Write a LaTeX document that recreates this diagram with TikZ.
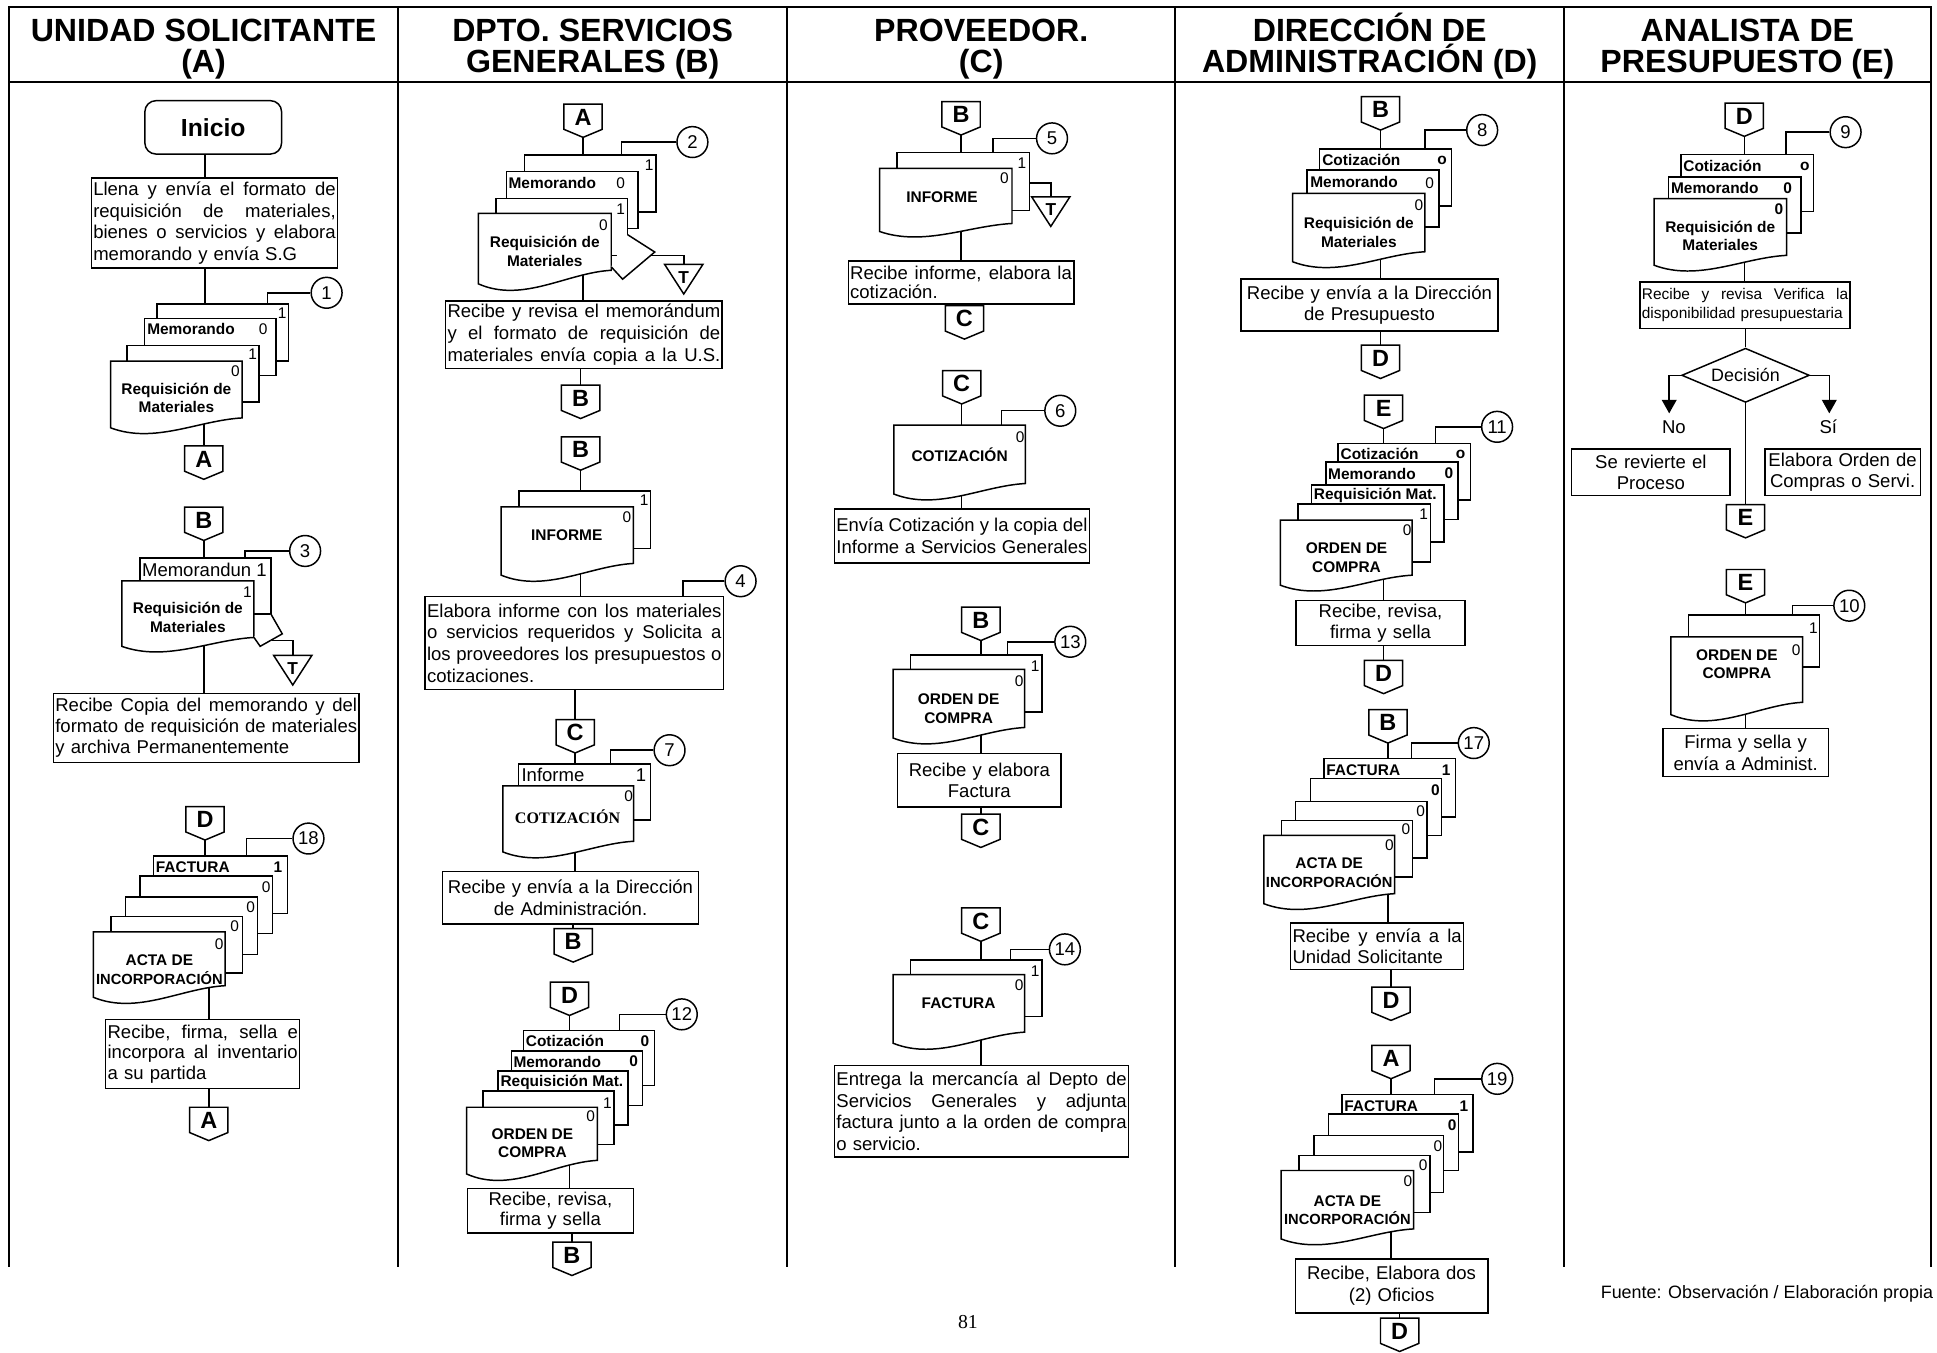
\documentclass[tikz,border=0pt]{standalone}
\usepackage{fontspec}
\usepackage{graphicx}
\setmainfont{Liberation Sans}
\newfontfamily\timesf{Liberation Serif}
\usetikzlibrary{calc,shapes.geometric,arrows.meta}
\pgfdeclarelayer{bg}
\pgfsetlayers{bg,main}
\newsavebox\jlbox
\newcommand\fsz[2]{\fontsize{#1}{#2}\selectfont}
\newcommand\jl[1]{\sbox\jlbox{\spaceskip=0pt\relax#1}\ifdim\wd\jlbox>\hsize\resizebox{\hsize}{\height}{\usebox\jlbox}\else\makebox[\hsize][s]{\spaceskip=0.278em plus 1fil\relax#1}\fi}
\tikzset{
 ln/.style={line width=1.2pt},
 frame/.style={line width=1.7pt, line cap=rect},
 proc/.style={draw, line width=1.2pt, fill=white, inner xsep=1.5pt, inner ysep=0pt, anchor=north west, align=left, font=\fsz{15}{17.5}},
 sheetn/.style={draw, line width=1.2pt, fill=white, inner sep=0pt, outer sep=0pt, anchor=north west},
 docn/.style={inner sep=0pt, outer sep=0pt, anchor=north west},
 dtext/.style={font=\bfseries\fsz{12.5}{15}, align=center, inner sep=0pt},
 slab/.style={font=\bfseries\fsz{12.5}{14}, inner sep=0pt, anchor=west},
 snum/.style={font=\fsz{12.5}{14}, inner sep=0pt},
 snumb/.style={font=\bfseries\fsz{12.5}{14}, inner sep=0pt},
 circn/.style={circle, draw, line width=1.2pt, fill=white, minimum size=25pt, inner sep=0pt, font=\fsz{15}{15}},
 cletter/.style={font=\bfseries\fsz{19}{19}, inner sep=0pt},
 head/.style={font=\bfseries\fsz{26}{26}, anchor=base, inner sep=0pt},
 plain/.style={font=\fsz{15}{15}, inner sep=0pt},
}
\newcommand\sht[5]{\node[sheetn, minimum width=#4pt, minimum height=#5pt] (#1) at (#2,#3) {};}
\newcommand\docf[6]{%
 \node[docn, minimum width=#4pt, minimum height=#5pt] (#1) at (#2,#3) {};
 \draw[ln, fill=white] (#1.north west) -- (#1.north east) -- (#1.south east)
   .. controls ($(#1.south east)!0.333!(#1.south west)+(0,2)$) and ($(#1.south east)!0.667!(#1.south west)+(0,{1.8*#6+7})$)
   .. ($(#1.south west)+(0,#6)$) -- cycle;}
\newcommand\conn[4]{%
 \draw[ln, fill=white] ({#2-15.5},#3) -- ({#2+15.5},#3) -- ({#2+15.5},{#3+20.5}) -- (#2,{#3+27}) -- ({#2-15.5},{#3+20.5}) -- cycle;
 \node[cletter] (#1) at (#2,{#3+10.5}) {#4};}
\newcommand\arch[3]{%
 \coordinate (#1top) at (#2,#3);
 \draw[ln, fill=white] ({#2-15.5},#3) -- ({#2+15.5},#3) -- (#2,{#3+24}) -- cycle;
 \node[font=\bfseries\fsz{14}{14}, inner sep=0pt] (#1) at (#2,{#3+10.5}) {T};}
\begin{document}
\begin{tikzpicture}[x=1pt,y=-1pt]
\useasboundingbox (0,0) rectangle (1568,1095);
% ---------- frame ----------
\draw[frame] (7,6) -- (1563,6);
\draw[frame] (7,66.5) -- (1563,66.5);
\foreach \xx in {7,322.5,637,951.5,1266,1563} \draw[frame] (\xx,6) -- (\xx,1025);
\node[head] (hA1) at (164.8,33.5) {UNIDAD SOLICITANTE};
\node[head] (hA2) at (164.8,58.5) {(A)};
\node[head] (hB1) at (479.8,33.5) {DPTO. SERVICIOS};
\node[head] (hB2) at (479.8,58.5) {GENERALES (B)};
\node[head] (hC1) at (794.3,33.5) {PROVEEDOR.};
\node[head] (hC2) at (794.3,58.5) {(C)};
\node[head] (hD1) at (1108.8,33.5) {DIRECCIÓN DE};
\node[head] (hD2) at (1108.8,58.5) {ADMINISTRACIÓN (D)};
\node[head] (hE1) at (1414.5,33.5) {ANALISTA DE};
\node[head] (hE2) at (1414.5,58.5) {PRESUPUESTO (E)};

% ================= COLUMN A =================
\coordinate (xA) at (166,0);
\node[draw, line width=1.2pt, fill=white, rounded corners=9pt, minimum width=110.7pt, minimum height=43.2pt, font=\bfseries\fsz{20}{20}] (ini) at (172.6,103.1) {Inicio};
\node[proc, text width=196.3pt, minimum height=73pt] (b1) at (73.4,143.5) {\jl{Llena y envía el formato de}\\\jl{requisición de materiales,}\\\jl{bienes o servicios y elabora}\\memorando y envía S.G};
% stack 1
\sht{s1a}{127.2}{246.2}{106.5}{46}
\sht{s1b}{117}{258}{106.5}{46}
\sht{s1c}{103}{279.5}{106.5}{46}
\docf{s1d}{89.5}{292.3}{106.5}{46}{8}
\node[snum] (n1a) at (228.5,253.5) {1};
\node[slab] (l1b) at (119,266.5) {Memorando};
\node[snum] (n1b) at (213,266.5) {0};
\node[snum] (n1c) at (204.5,287) {1};
\node[snum] (n1d) at (190.5,300.5) {0};
\node[dtext] (t1d) at (142.8,322) {Requisición de\\Materiales};
\node[circn] (c1) at (264.4,237) {1};
\coordinate (k1) at (216.5,246.2);
\draw[ln] (k1) |- (c1.west);
\conn{cA1}{165}{361}{A}
\conn{cB1}{165}{410.5}{B}
% stack 3
\sht{s3a}{113.4}{451.5}{106}{45.7}
\docf{s3b}{98.6}{470.3}{107}{45.7}{7.2}
\draw[ln, fill=white] (219.4,497.2) -- (228.5,513.1) -- (210.6,523.2) -- (205.6,516);
\node[slab, font=\fsz{15}{15}] (l3a) at (114.8,461) {Memorandun 1};
\node[snum] (n3b) at (200.3,479) {1};
\node[dtext] (t3b) at (152.1,500) {Requisición de\\Materiales};
\node[circn] (c3) at (247,446) {3};
\coordinate (k3) at (198.5,451.5);
\draw[ln] (k3) |- (c3.west);
\arch{T3}{237}{530.5}
\coordinate (k3t) at (219.8,518.5);
\draw[ln] (k3t) -| (T3top);
\node[proc, text width=244.3pt, minimum height=55.9pt, font=\fsz{15}{17}] (b3) at (42.7,560.8) {\jl{Recibe Copia del memorando y del}\\\jl{formato de requisición de materiales}\\y archiva Permanentemente};
\conn{cD1}{166}{653}{D}
% stack 18
\sht{s18a}{124.2}{692.9}{108.5}{46.7}
\sht{s18b}{113.4}{709.3}{107.1}{46.4}
\sht{s18c}{101.8}{726}{106.8}{46.8}
\sht{s18d}{89.9}{741.7}{106.3}{45.9}
\docf{s18e}{75.6}{754.4}{106.6}{43.5}{9.4}
\node[slab] (l18a) at (126,701.7) {FACTURA};
\node[snumb] (n18a) at (225,701.7) {1};
\node[snum] (n18b) at (215.5,718) {0};
\node[snum] (n18c) at (203,734) {0};
\node[snum] (n18d) at (190,749.8) {0};
\node[snum] (n18e) at (177.5,764) {0};
\node[dtext] (t18e) at (129,785) {ACTA DE\\\fsz{11.9}{15}INCORPORACIÓN};
\node[circn] (c18) at (249.7,678.8) {18};
\coordinate (k18) at (199.7,692.9);
\draw[ln] (k18) |- (c18.west);
\node[proc, text width=154pt, minimum height=56pt, font=\fsz{15}{16.5}] (b18) at (85,824.5) {\jl{Recibe, firma, sella e}\\\jl{incorpora al inventario}\\a su partida};
\conn{cA2}{169}{896.3}{A}

% ================= COLUMN B =================
\conn{cAB}{472}{84.2}{A}
\sht{s2a}{424.7}{125.5}{106.5}{46}
\sht{s2b}{409.8}{139}{106.5}{46}
\sht{s2c}{401.6}{160.7}{106.5}{46}
\docf{s2d}{387.3}{172.8}{107.5}{46}{11}
\draw[ln, fill=white] (508.1,190) -- (530,204) -- (504,226) -- (494.8,216);
\node[snum] (n2a) at (525.5,133.5) {1};
\node[slab] (l2b) at (411.5,148) {Memorando};
\node[snum] (n2b) at (502.4,148) {0};
\node[snum] (n2c) at (502.4,169.5) {1};
\node[snum] (n2d) at (488.5,182) {0};
\node[dtext] (t2d) at (441,203.5) {Requisición de\\Materiales};
\node[circn] (c2) at (560.5,115) {2};
\coordinate (k2) at (503,125.5);
\draw[ln] (k2) |- (c2.west);
\arch{T2}{553.5}{214}
\coordinate (k2t) at (526.7,207);
\draw[ln] (k2t) -| (T2top);
\node[proc, text width=220.8pt, minimum height=54.5pt] (b2) at (360.2,243) {\jl{Recibe y revisa el memorándum}\\\jl{y el formato de requisición de}\\\jl{materiales envía copia a la U.S.}};
\conn{cBB1}{470}{311.8}{B}
\conn{cBB2}{470}{353.6}{B}
\sht{s4a}{420.2}{397.3}{106.5}{46.7}
\docf{s4b}{405.7}{410.3}{107.1}{45.8}{9.5}
\node[snum] (n4a) at (521.5,405) {1};
\node[snum] (n4b) at (507.4,418.4) {0};
\node[dtext] (t4b) at (458.8,433.2) {INFORME};
\node[proc, text width=238.4pt, minimum height=75pt] (b4) at (343.6,482.4) {\jl{Elabora informe con los materiales}\\\jl{o servicios requeridos y Solicita a}\\\jl{los proveedores los presupuestos o}\\cotizaciones.};
\node[circn] (c4) at (599.5,470.5) {4};
\coordinate (k4) at (553,482.4);
\draw[ln] (k4) |- (c4.west);
\conn{cCB}{465.6}{582.5}{C}
\sht{s7a}{419.7}{618.3}{106.7}{45.4}
\docf{s7b}{407}{636.2}{105.9}{44.8}{8.6}
\node[slab, font=\fsz{15}{15}] (l7a) at (422,627.6) {Informe};
\node[plain] (n7a) at (519,627.6) {1};
\node[snum] (n7b) at (508.9,644.9) {0};
\node[dtext, font=\timesf\bfseries\fsz{13}{15}] (t7b) at (459.5,660.8) {COTIZACIÓN};
\node[circn] (c7) at (542,607.3) {7};
\coordinate (k7) at (494,618.3);
\draw[ln] (k7) |- (c7.west);
\node[proc, align=center, text width=204.2pt, minimum height=42.4pt] (b7) at (357.6,705) {Recibe y envía a la Dirección\\de Administración.};
\conn{cBB3}{464}{751.8}{B}
\conn{cDB}{461}{795}{D}
\sht{s12a}{423.8}{834.1}{106.1}{44.8}
\sht{s12b}{413.9}{850.6}{106.4}{44.2}
\sht{s12c}{403.1}{866.8}{105.4}{43.9}
\sht{s12d}{391.1}{883.3}{105.8}{43.3}
\docf{s12e}{377.7}{896.3}{105.8}{43}{11}
\node[slab] (l12a) at (425.5,842.8) {Cotización};
\node[snumb] (n12a) at (522,842.8) {0};
\node[slab] (l12b) at (415.5,859.3) {Memorando};
\node[snumb] (n12b) at (513,859.3) {0};
\node[slab] (l12c) at (405,876) {Requisición Mat.};
\node[snum] (n12d) at (491.6,893) {1};
\node[snum] (n12e) at (478.2,903.5) {0};
\node[dtext] (t12e) at (431,925.5) {ORDEN DE\\COMPRA};
\node[circn] (c12) at (551.9,821.1) {12};
\coordinate (k12) at (501.5,834.1);
\draw[ln] (k12) |- (c12.west);
\node[proc, align=center, text width=131.5pt, minimum height=36.1pt, font=\fsz{15}{16.5}] (b12) at (377.7,961.3) {Recibe, revisa,\\firma y sella};
\conn{cBB4}{463}{1005.5}{B}

% ================= COLUMN C =================
\conn{cBC1}{778}{82.3}{B}
\sht{s5a}{726.1}{123.6}{107.4}{47}
\docf{s5b}{712}{136.3}{107.2}{44.6}{6.5}
\node[snum] (n5a) at (827.3,132.5) {1};
\node[snum] (n5b) at (813,144.4) {0};
\node[dtext] (t5b) at (762.5,159.8) {INFORME};
\node[circn] (c5) at (851.6,112) {5};
\coordinate (k5) at (803.8,123.6);
\draw[ln] (k5) |- (c5.west);
\arch{T5}{850.6}{159.3}
\coordinate (k5t) at (833.5,148);
\draw[ln] (k5t) -| (T5top);
\node[proc, text width=179.5pt, minimum height=35.1pt, font=\fsz{15}{15.5}] (b5) at (686.1,210.5) {\jl{Recibe informe, elabora la}\\cotización.};
\conn{cCC1}{780.7}{247.5}{C}
\conn{cCC2}{778.5}{300}{C}
\docf{d6}{723.5}{344.1}{106.5}{47.3}{8.5}
\node[snum] (n6) at (825.9,353.6) {0};
\node[dtext] (t6) at (776.8,368) {COTIZACIÓN};
\node[circn] (c6) at (858.3,332.5) {6};
\coordinate (k6) at (810.5,344.1);
\draw[ln] (k6) |- (c6.west);
\node[proc, text width=203.2pt, minimum height=43.4pt] (b6) at (675,411.6) {\jl{Envía Cotización y la copia del}\\\jl{Informe a Servicios Generales}};
\conn{cBC2}{794}{491.5}{B}
\sht{s13a}{736.9}{530.3}{106.5}{45.9}
\docf{s13b}{722.9}{541.9}{106.5}{47}{8.5}
\node[snum] (n13a) at (838,539) {1};
\node[snum] (n13b) at (825,551.4) {0};
\node[dtext] (t13b) at (776,573.5) {ORDEN DE\\COMPRA};
\node[circn] (c13) at (866.4,519.5) {13};
\coordinate (k13) at (815.6,530.3);
\draw[ln] (k13) |- (c13.west);
\node[proc, align=center, text width=129.3pt, minimum height=43.2pt] (b13) at (726,609.4) {Recibe y elabora\\Factura};
\conn{cCC3}{794}{659}{C}
\conn{cCC4}{794}{735}{C}
\sht{s14a}{737}{777}{106.5}{46}
\docf{s14b}{723}{789}{106.5}{46.5}{9}
\node[snum] (n14a) at (838,786) {1};
\node[snum] (n14b) at (825,797.5) {0};
\node[dtext] (t14b) at (776,812) {FACTURA};
\node[circn] (c14) at (862,768.5) {14};
\coordinate (k14) at (818,777);
\draw[ln] (k14) |- (c14.west);
\node[proc, text width=235pt, minimum height=74pt] (b14) at (675,862) {\jl{Entrega la mercancía al Depto de}\\\jl{Servicios Generales y adjunta}\\\jl{factura junto a la orden de compra}\\o servicio.};

% ================= COLUMN D =================
\conn{cBD1}{1117.5}{78.3}{B}
\sht{s8a}{1068.3}{120.7}{106.7}{46.2}
\sht{s8b}{1058}{137.7}{106.7}{45.9}
\docf{s8c}{1046.4}{156.6}{107}{47.2}{8.1}
\node[slab] (l8a) at (1070.2,129.5) {Cotización};
\node[snumb] (n8a) at (1167.4,130) {o};
\node[slab] (l8b) at (1060.5,147.1) {Memorando};
\node[snum] (n8b) at (1157.4,148) {0};
\node[snum] (n8c) at (1148.5,166) {0};
\node[dtext] (t8c) at (1100,188.3) {Requisición de\\Materiales};
\node[circn] (c8) at (1199.8,105.3) {8};
\coordinate (k8) at (1153.4,120.7);
\draw[ln] (k8) |- (c8.west);
\node[proc, align=center, text width=204.9pt, minimum height=41.8pt, font=\fsz{15}{16.5}] (b8) at (1004,225.4) {Recibe y envía a la Dirección\\de Presupuesto};
\conn{cDD1}{1117.5}{279.4}{D}
\conn{cED}{1120}{319.9}{E}
\sht{s11a}{1083.1}{359}{107.2}{45.9}
\sht{s11b}{1073.4}{373.8}{107}{46.7}
\sht{s11c}{1061.6}{392.7}{107.2}{45.9}
\sht{s11d}{1050.8}{408.1}{107.1}{46.7}
\docf{s11e}{1036.4}{421.1}{106.7}{44.5}{8.1}
\node[slab] (l11a) at (1085,367.6) {Cotización};
\node[snumb] (n11a) at (1182.3,368) {o};
\node[slab] (l11b) at (1075,383.3) {Memorando};
\node[snumb] (n11b) at (1172.8,383.3) {0};
\node[slab] (l11c) at (1063.4,401.2) {Requisición Mat.};
\node[snum] (n11d) at (1152.5,416) {1};
\node[snum] (n11e) at (1139,429.2) {0};
\node[dtext] (t11e) at (1090,451.5) {ORDEN DE\\COMPRA};
\node[circn] (c11) at (1211.9,345.5) {11};
\coordinate (k11) at (1162,359);
\draw[ln] (k11) |- (c11.west);
\node[proc, align=center, text width=133.6pt, minimum height=36.4pt, font=\fsz{15}{17}] (b11) at (1048.6,485.4) {Recibe, revisa,\\firma y sella};
\conn{cDD2}{1120}{534.5}{D}
\conn{cBD2}{1123.5}{574.5}{B}
\sht{s17a}{1071.6}{614.1}{106.6}{47.3}
\sht{s17b}{1060.8}{630.3}{106.1}{46}
\sht{s17c}{1048.6}{648.7}{106.7}{46}
\sht{s17d}{1037.3}{664.1}{106.3}{46}
\docf{s17e}{1023}{676.2}{106}{47.2}{8.1}
\node[slab] (l17a) at (1073.5,623.6) {FACTURA};
\node[snumb] (n17a) at (1170.6,623.6) {1};
\node[snumb] (n17b) at (1162,639.3) {0};
\node[snum] (n17c) at (1150,656.5) {0};
\node[snum] (n17d) at (1138,671.5) {0};
\node[snum] (n17e) at (1124.7,684.4) {0};
\node[dtext] (t17e) at (1076,706.6) {ACTA DE\\\fsz{11.9}{15}INCORPORACIÓN};
\node[circn] (c17) at (1193,601.5) {17};
\coordinate (k17) at (1142.6,614.1);
\draw[ln] (k17) |- (c17.west);
\node[proc, text width=137pt, minimum height=37.8pt, font=\fsz{15}{17}] (b17) at (1044.2,746.4) {\jl{Recibe y envía a la}\\Unidad Solicitante};
\conn{cDD3}{1126}{799}{D}
\conn{cAD}{1126}{846.2}{A}
\sht{s19a}{1086.3}{886}{106}{46.7}
\sht{s19b}{1075.4}{901.6}{105.2}{46}
\sht{s19c}{1063.5}{919.2}{105.1}{46}
\sht{s19d}{1051.5}{935.4}{106.2}{46}
\docf{s19e}{1037}{947.5}{107.3}{47.3}{8.1}
\node[slab] (l19a) at (1088,895.2) {FACTURA};
\node[snumb] (n19a) at (1185,895.2) {1};
\node[snumb] (n19b) at (1175.5,910.5) {0};
\node[snum] (n19c) at (1164,928) {0};
\node[snum] (n19d) at (1152,943) {0};
\node[snum] (n19e) at (1139.6,956.1) {0};
\node[dtext] (t19e) at (1090.7,979.6) {ACTA DE\\\fsz{11.9}{15}INCORPORACIÓN};
\node[circn] (c19) at (1212,873.3) {19};
\coordinate (k19) at (1161.4,886);
\draw[ln] (k19) |- (c19.west);
\node[proc, align=center, text width=152.9pt, minimum height=43.8pt] (b19) at (1047.9,1018.5) {Recibe, Elabora dos\\(2) Oficios};
\conn{cDD4}{1133}{1067}{D}

% ================= COLUMN E =================
\conn{cDE}{1412}{83.4}{D}
\sht{s9a}{1360.6}{124.9}{107.2}{46.3}
\sht{s9b}{1350.7}{143.2}{107.2}{45.6}
\docf{s9c}{1339}{160.7}{107.2}{46}{8}
\node[slab] (l9a) at (1362.5,134.2) {Cotización};
\node[snumb] (n9a) at (1461,134.4) {o};
\node[slab] (l9b) at (1352.5,152.5) {Memorando};
\node[snumb] (n9b) at (1447,152.5) {0};
\node[snumb] (n9c) at (1440,169.5) {0};
\node[dtext] (t9c) at (1392.5,191) {Requisición de\\Materiales};
\node[circn] (c9) at (1494,107) {9};
\coordinate (k9) at (1445.7,124.9);
\draw[ln] (k9) |- (c9.west);
\node[proc, text width=167pt, minimum height=37.9pt, font=\fsz{12.5}{15.8}] (b9) at (1327,227.5) {\jl{Recibe y revisa Verifica la}\\disponibilidad presupuestaria};
\node[diamond, draw, line width=1.2pt, fill=white, minimum width=103.4pt, minimum height=43.9pt, aspect=2.36, inner sep=0pt, font=\fsz{14.5}{14.5}] (dec) at (1413,303.8) {Decisión};
\coordinate (noT) at (1351.2,334.6);
\coordinate (siT) at (1480.8,334.6);
\draw[ln, -{Triangle[width=12pt,length=11pt]}] (dec.west) -| (noT);
\draw[ln, -{Triangle[width=12pt,length=11pt]}] (dec.east) -| (siT);
\node[plain] (lno) at (1355,345.5) {No};
\node[plain] (lsi) at (1480,345.5) {Sí};
\node[proc, align=center, text width=125.5pt, minimum height=38pt] (bN) at (1271.5,362.7) {Se revierte el\\Proceso};
\node[proc, align=center, text width=123pt, minimum height=38pt] (bS) at (1428,362.7) {Elabora Orden de\\Compras o Servi.};
\conn{cEE1}{1413}{408.4}{E}
\conn{cEE2}{1413}{461}{E}
\sht{s10a}{1366.9}{498}{105.8}{42.1}
\docf{s10b}{1352.6}{515.5}{106.6}{53}{10}
\node[snum] (n10a) at (1468,508.5) {1};
\node[snum] (n10b) at (1454,526) {0};
\node[dtext] (t10b) at (1406,537.5) {ORDEN DE\\COMPRA};
\node[circn] (c10) at (1497,490.3) {10};
\coordinate (k10) at (1451,498);
\draw[ln] (k10) |- (c10.west);
\node[proc, align=center, text width=131pt, minimum height=38.7pt, font=\fsz{15}{18}] (b10) at (1345.5,589.3) {Firma y sella y\\envía a Administ.};

% footer
\node[font=\fsz{14.5}{14.5}, anchor=east, inner sep=0pt] (src) at (1565,1047.4) {Fuente: Observación / Elaboración propia};
\node[font=\timesf\fsz{16}{16}, inner sep=0pt] (pg) at (783.5,1070) {81};

% ---------- flow lines (behind) ----------
\begin{pgfonlayer}{bg}
\draw[ln] (xA |- ini) -- (xA |- s1c);
\draw[ln] (cA1 |- s1d) -- (cA1);
\draw[ln] (cB1) -- (cB1 |- b3);
\draw[ln] (cD1) -- (cD1 |- s18e);
\draw[ln] (cA2 |- s18e) -- (cA2);
\draw[ln] (cAB) -- (cAB |- b2);
\draw[ln] (cBB1 |- b2) -- (cBB1);
\draw[ln] (cBB2) -- (cBB2 |- b4);
\draw[ln] (cCB |- b4) -- (cCB);
\draw[ln] (cCB) -- (cCB |- b7);
\draw[ln] (cBB3 |- b7) -- (cBB3);
\draw[ln] (cDB) -- (cDB |- b12);
\draw[ln] (cBB4 |- b12) -- (cBB4);
\draw[ln] (cBC1) -- (cBC1 |- b5);
\draw[ln] (cCC1 |- b5) -- (cCC1);
\draw[ln] (cCC2) -- (cCC2 |- b6);
\draw[ln] (cBC2) -- (cBC2 |- b13);
\draw[ln] (cCC3 |- b13) -- (cCC3);
\draw[ln] (cCC4) -- (cCC4 |- b14);
\draw[ln] (cBD1) -- (cBD1 |- b8);
\draw[ln] (cDD1 |- b8) -- (cDD1);
\draw[ln] (cED) -- (cED |- b11);
\draw[ln] (cDD2 |- b11) -- (cDD2);
\draw[ln] (cBD2) -- (cBD2 |- b17);
\draw[ln] (cDD3 |- b17) -- (cDD3);
\draw[ln] (cAD) -- (cAD |- b19);
\draw[ln] (cDD4 |- b19) -- (cDD4);
\draw[ln] (cDE) -- (cDE |- b9);
\draw[ln] (dec |- b9) -- (dec);
\draw[ln] (dec) -- (cEE1);
\draw[ln] (cEE2) -- (cEE2 |- b10);
\end{pgfonlayer}
\end{tikzpicture}
\end{document}
